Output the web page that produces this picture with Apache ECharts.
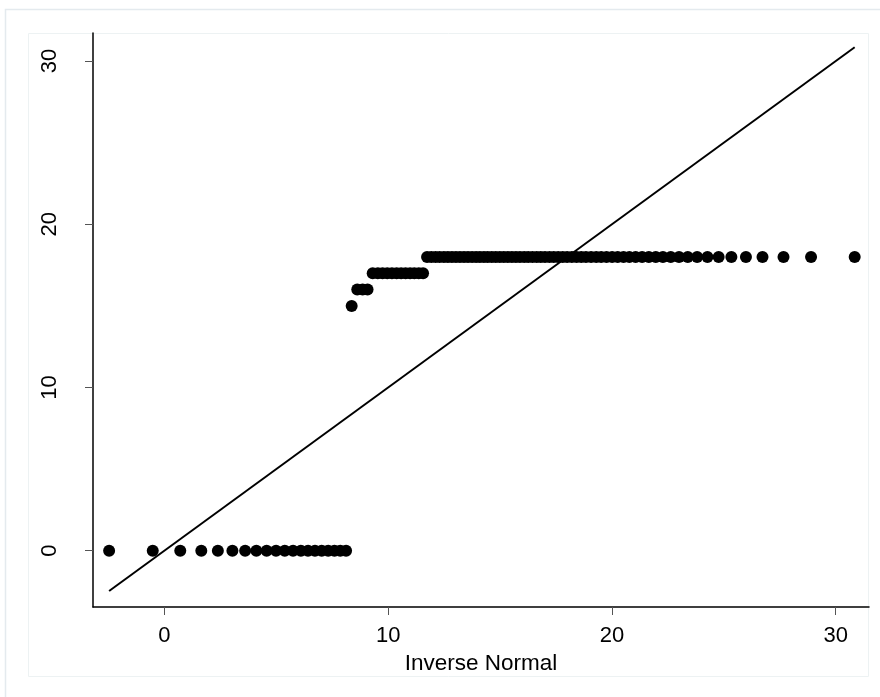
<!DOCTYPE html>
<html>
<head>
<meta charset="utf-8">
<script src="https://cdn.jsdelivr.net/npm/echarts@6/dist/echarts.min.js"></script>
<style>
  html, body { margin: 0; padding: 0; background: #ffffff; }
  #chart { width: 880px; height: 697px; }
</style>
</head>
<body>
<div id="chart"></div>
<script>
// Normal quantile plot: sorted values against inverse-normal quantiles
const invNormal = [
  -2.47, -0.52, 0.71, 1.65, 2.39, 3.04, 3.61, 4.11, 4.57, 4.99,
  5.38, 5.75, 6.10, 6.42, 6.73, 7.03, 7.32, 7.60, 7.86, 8.12,
  8.37, 8.62, 8.86, 9.08, 9.31, 9.54, 9.75, 9.96, 10.17, 10.38,
  10.58, 10.78, 10.98, 11.17, 11.37, 11.56, 11.74, 11.93, 12.12, 12.30,
  12.49, 12.67, 12.85, 13.03, 13.21, 13.39, 13.57, 13.75, 13.93, 14.10,
  14.28, 14.45, 14.63, 14.81, 14.99, 15.17, 15.35, 15.53, 15.71, 15.89,
  16.08, 16.26, 16.45, 16.64, 16.82, 17.01, 17.21, 17.40, 17.60, 17.80,
  18.00, 18.21, 18.42, 18.63, 18.84, 19.07, 19.30, 19.52, 19.76, 20.01,
  20.26, 20.52, 20.78, 21.06, 21.35, 21.65, 21.96, 22.28, 22.63, 23.00,
  23.39, 23.81, 24.27, 24.77, 25.34, 25.99, 26.73, 27.67, 28.90, 30.85
];
const sortedValues = [
  0, 0, 0, 0, 0, 0, 0, 0, 0, 0,
  0, 0, 0, 0, 0, 0, 0, 0, 0, 0,
  15, 16, 16, 16, 17, 17, 17, 17, 17, 17,
  17, 17, 17, 17, 17, 17, 18, 18, 18, 18,
  18, 18, 18, 18, 18, 18, 18, 18, 18, 18,
  18, 18, 18, 18, 18, 18, 18, 18, 18, 18,
  18, 18, 18, 18, 18, 18, 18, 18, 18, 18,
  18, 18, 18, 18, 18, 18, 18, 18, 18, 18,
  18, 18, 18, 18, 18, 18, 18, 18, 18, 18,
  18, 18, 18, 18, 18, 18, 18, 18, 18, 18
];
const xTicks = [0, 10, 20, 30];
const yTicks = [0, 10, 20, 30];
const xTitle = 'Inverse Normal';

const points = invNormal.map((x, i) => [x, sortedValues[i]]);
const lo = Math.min(...invNormal);
const hi = Math.max(...invNormal);
const refLine = [[lo, lo], [hi, hi]];

const FONT = '"Liberation Sans", Arial, sans-serif';

const chart = echarts.init(document.getElementById('chart'), null, { renderer: 'canvas' });
chart.setOption({
  animation: false,
  backgroundColor: '#ffffff',
  graphic: [
    { type: 'rect', silent: true, z: -10,
      shape: { x: 5.5, y: 9.5, width: 900, height: 700 },
      style: { fill: 'none', stroke: '#e4eaee', lineWidth: 1.5 } },
    { type: 'rect', silent: true, z: -10,
      shape: { x: 28.5, y: 33.5, width: 840, height: 643 },
      style: { fill: '#ffffff', stroke: '#edf2f3', lineWidth: 1 } }
  ],
  grid: { left: 93, right: 11, top: 33, bottom: 90 },
  xAxis: {
    type: 'value',
    min: -3.19,
    max: 31.49,
    name: xTitle,
    nameLocation: 'middle',
    nameGap: 45,
    nameTextStyle: { color: '#000', fontFamily: FONT, fontSize: 22.5 },
    axisLine: { onZero: false, lineStyle: { color: '#000', width: 1.5 } },
    axisTick: { show: true, length: 8, customValues: xTicks, lineStyle: { color: '#555', width: 1 } },
    axisLabel: { customValues: xTicks, margin: 18, color: '#000', fontFamily: FONT, fontSize: 22 },
    splitLine: { show: false }
  },
  yAxis: {
    type: 'value',
    min: -3.45,
    max: 31.72,
    axisLine: { show: true, onZero: false, lineStyle: { color: '#000', width: 1.5 } },
    axisTick: { show: true, length: 8, customValues: yTicks, lineStyle: { color: '#555', width: 1 } },
    axisLabel: { customValues: yTicks, rotate: 90, margin: 32, color: '#000', fontFamily: FONT, fontSize: 22 },
    splitLine: { show: false }
  },
  series: [
    {
      type: 'scatter',
      data: points,
      symbol: 'circle',
      symbolSize: 12,
      itemStyle: { color: '#000', opacity: 1 },
      z: 2
    },
    {
      type: 'line',
      data: refLine,
      symbol: 'none',
      lineStyle: { color: '#000', width: 2 },
      z: 3
    }
  ]
});
</script>
</body>
</html>
